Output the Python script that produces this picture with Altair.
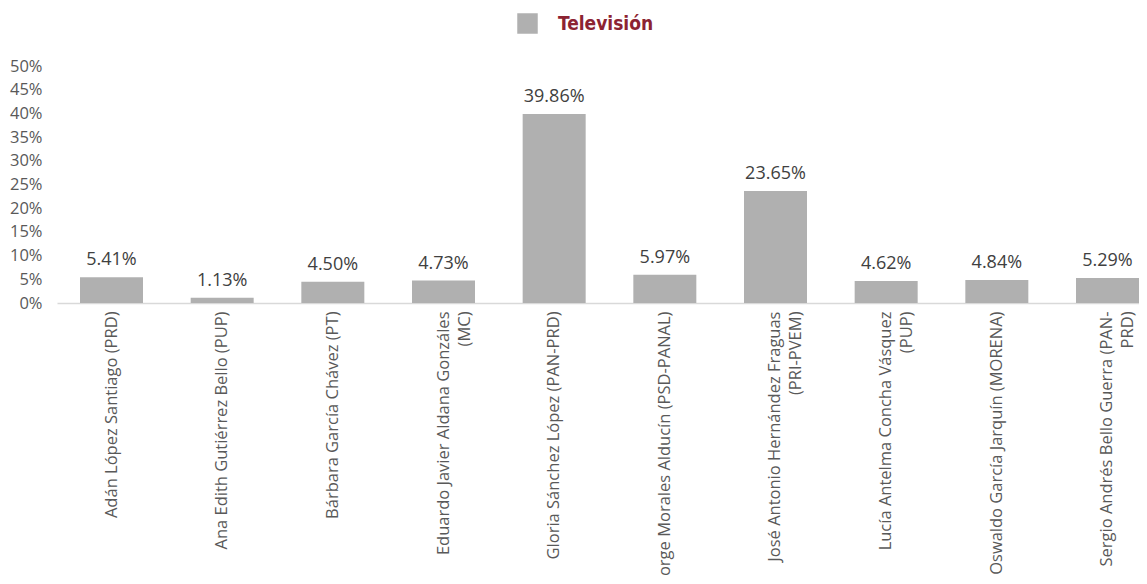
import altair as alt
import pandas as pd

candidatos = [
    "Adán López Santiago (PRD)",
    "Ana Edith Gutiérrez Bello (PUP)",
    "Bárbara García Chávez (PT)",
    "Eduardo Javier Aldana Gonzáles\n(MC)",
    "Gloria Sánchez López (PAN-PRD)",
    "Jorge Morales Alducín (PSD-PANAL)",
    "José Antonio Hernández Fraguas\n(PRI-PVEM)",
    "Lucía Antelma Concha Vásquez\n(PUP)",
    "Oswaldo García Jarquín (MORENA)",
    "Sergio Andrés Bello Guerra (PAN-\nPRD)",
]
television = [0.0541, 0.0113, 0.0450, 0.0473, 0.3986, 0.0597, 0.2365, 0.0462, 0.0484, 0.0529]
serie = ["Televisión"] * len(candidatos)
y_ticks = [0, 0.05, 0.10, 0.15, 0.20, 0.25, 0.30, 0.35, 0.40, 0.45, 0.50]

df = pd.DataFrame({"candidato": candidatos, "valor": television, "serie": serie})

FONT = "Open Sans"

x = alt.X(
    "candidato:N",
    sort=None,
    title=None,
    scale=alt.Scale(paddingInner=0.431, paddingOuter=0.208, range=[0, 1105]),
    axis=alt.Axis(
        labelAngle=-90,
        labelFont=FONT,
        labelFontSize=16.5,
        labelColor="#595959",
        labelPadding=8,
        labelLineHeight=21,
        labelLimit=0,
        labelOverlap=False,
        labelExpr="split(datum.label, '\\n')",
        ticks=False,
        domainColor="#d9d9d9",
        domainWidth=1.5,
        grid=False,
    ),
)

y = alt.Y(
    "valor:Q",
    title=None,
    scale=alt.Scale(domain=[0, 0.5], nice=False),
    axis=alt.Axis(
        values=y_ticks,
        format=".0%",
        labelFont=FONT,
        labelFontSize=16.5,
        labelColor="#595959",
        labelPadding=15,
        labelOverlap=False,
        labelBound=False,
        ticks=False,
        domain=False,
        grid=False,
    ),
)

base = alt.Chart(df).encode(x=x, y=y)

bars = base.mark_bar(size=63).encode(
    color=alt.Color(
        "serie:N",
        scale=alt.Scale(range=["#b0b0b0"]),
        legend=alt.Legend(
            title=None,
            orient="none",
            legendX=460,
            legendY=-53,
            padding=0,
            symbolType="square",
            symbolSize=420,
            symbolStrokeWidth=0,
            symbolOpacity=1,
            labelFont="'DejaVu Sans Condensed', 'Liberation Sans Narrow', sans-serif",
            labelFontWeight="bold",
            labelFontSize=19,
            labelColor="#8c2332",
            labelOffset=20,
        ),
    ),
)

labels = base.mark_text(
    baseline="alphabetic", dy=-12, font=FONT, fontSize=18, color="#404040"
).encode(
    text=alt.Text("valor:Q", format=".2%"),
)

chart = (
    alt.layer(bars, labels)
    .properties(
        width=1082,
        height=237,
        autosize=alt.AutoSizeParams(type="none"),
        padding={"left": 49, "top": 58, "right": 0, "bottom": 273},
        background="white",
    )
    .configure_view(stroke=None, strokeWidth=0)
)

chart.save("out.html", embed_options={"renderer": "svg", "actions": False})
